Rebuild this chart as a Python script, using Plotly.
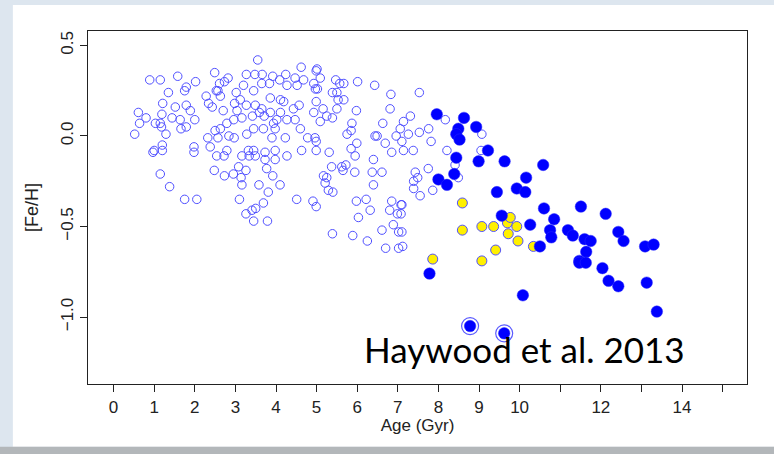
import plotly.graph_objects as go

# ---- data (Age in Gyr, [Fe/H]) ----
open_age = [3.55, 4.62, 5.01, 4.99,
    2.49, 3.27, 3.48, 3.66, 3.92, 4.24, 4.47, 4.68, 5.09, 5.47, 5.57, 5.67, 6.01, 6.43,
    0.89, 1.15, 1.58, 2.02, 1.79, 1.75,
    2.82, 2.73, 2.61, 2.53, 2.57, 3.02, 3.20, 3.45, 3.65, 3.84, 4.09, 4.27, 4.52, 4.93, 4.97, 5.02, 5.39, 5.50, 5.53, 5.67, 6.83, 7.53,
    1.35, 1.21, 1.52, 1.79, 1.89, 0.61, 0.80, 0.64, 1.03, 1.15, 1.19, 1.18, 1.29, 0.52, 1.44, 1.64, 1.66, 1.79, 2.00,
    2.28, 2.34, 2.43, 2.63, 2.70, 2.98, 3.12, 3.27, 3.04, 3.49, 3.65, 3.86, 4.11, 4.19, 4.43, 4.57, 4.99, 4.93, 5.16, 5.50, 5.98, 6.81, 7.31, 7.14,
    2.50, 2.63, 2.79, 2.96, 3.16, 3.42, 3.59, 3.71, 3.86, 4.02, 4.11, 4.27, 4.47, 4.60, 5.25, 5.39, 5.09, 5.87, 5.85, 5.75, 6.63, 6.49, 6.96, 7.06, 7.26, 7.53, 7.76,
    2.32, 2.57, 2.38, 2.84, 2.97, 3.28, 3.45, 3.69, 3.98, 3.90, 4.23, 3.94,
    1.00, 0.97, 1.20, 1.20, 1.98, 1.98,
    2.54, 2.72, 2.79, 3.16, 3.32, 3.45, 3.34, 3.49, 3.73, 3.98, 4.27, 4.63, 4.78, 4.96, 4.99, 4.99, 5.31, 5.85, 5.99, 5.95, 6.44, 6.69, 6.85, 7.10, 7.14, 7.38,
    1.15, 1.38, 1.75, 2.05,
    2.48, 2.73, 2.95, 3.08, 3.14, 3.16, 3.26, 3.58, 3.73, 3.77, 3.92, 4.10, 3.81, 3.98,
    5.17, 5.25, 5.21, 5.29, 5.40, 5.37, 5.62, 5.72, 5.65, 5.94, 6.40, 6.37, 6.61, 6.40, 7.43, 7.39, 7.49, 7.75, 7.39, 7.55,
    3.10, 3.26, 3.41, 3.50, 3.69, 3.45, 3.79, 4.51, 4.91, 4.99,
    5.98, 6.22, 6.03, 6.32, 6.85, 7.10, 6.80, 6.99, 6.89, 6.61, 7.02, 5.39, 5.89, 6.25, 6.70, 7.02,
    7.82, 8.17, 8.21, 9.07, 9.05, 7.86, 8.49, 8.41, 7.08, 7.08, 7.10, 7.12]
open_feh = [0.42, 0.38, 0.37, 0.36,
    0.35, 0.34, 0.34, 0.34, 0.33, 0.34, 0.32, 0.31, 0.32, 0.31, 0.29, 0.29, 0.30, 0.28,
    0.31, 0.31, 0.33, 0.30, 0.27, 0.25,
    0.32, 0.30, 0.29, 0.25, 0.25, 0.24, 0.28, 0.25, 0.29, 0.29, 0.31, 0.28, 0.28, 0.29, 0.26, 0.26, 0.24, 0.24, 0.20, 0.20, 0.23, 0.24,
    0.24, 0.18, 0.16, 0.17, 0.14, 0.13, 0.10, 0.07, 0.07, 0.07, 0.12, 0.05, 0.01, 0.01, 0.10, 0.09, 0.04, 0.05, 0.09,
    0.22, 0.18, 0.16, 0.22, 0.14, 0.18, 0.20, 0.17, 0.14, 0.17, 0.15, 0.21, 0.20, 0.19, 0.15, 0.17, 0.19, 0.13, 0.15, 0.15, 0.14, 0.15, 0.11, 0.08,
    0.03, 0.04, 0.07, 0.09, 0.10, 0.11, 0.13, 0.11, 0.13, 0.09, 0.13, 0.09, 0.09, 0.04, 0.11, 0.10, 0.08, 0.07, 0.03, 0.01, 0.07, 0.00, 0.00, 0.04, 0.01, 0.02, 0.04,
    -0.01, -0.01, -0.06, 0.00, -0.01, 0.01, 0.04, 0.04, 0.04, -0.01, -0.01, 0.07,
    -0.08, -0.09, -0.05, -0.08, -0.06, -0.09,
    -0.11, -0.11, -0.08, -0.11, -0.08, -0.08, -0.11, -0.11, -0.09, -0.08, -0.11, -0.08, -0.01, -0.01, -0.03, -0.08, -0.09, -0.07, -0.04, -0.11, 0.00, -0.04, -0.09, -0.03, -0.08, -0.08,
    -0.21, -0.28, -0.35, -0.35,
    -0.19, -0.22, -0.21, -0.17, -0.23, -0.27, -0.19, -0.27, -0.13, -0.18, -0.22, -0.27, -0.31, -0.13,
    -0.22, -0.23, -0.26, -0.30, -0.31, -0.17, -0.17, -0.16, -0.19, -0.20, -0.13, -0.20, -0.20, -0.27, -0.20, -0.25, -0.23, -0.18, -0.29, -0.33,
    -0.35, -0.43, -0.41, -0.40, -0.37, -0.47, -0.47, -0.35, -0.36, -0.39,
    -0.36, -0.35, -0.45, -0.41, -0.36, -0.38, -0.41, -0.43, -0.49, -0.52, -0.53, -0.54, -0.55, -0.58, -0.62, -0.62,
    -0.03, 0.09, -0.08, 0.01, -0.08, -0.30, -0.23, -0.16, -0.38, -0.43, -0.53, -0.61]

thick_age = [7.96, 8.63, 8.93, 8.49, 8.44, 8.52, 9.22, 8.44, 8.99, 9.63, 10.58, 8.39, 8.00, 8.21,
    10.16, 9.93, 10.14, 9.44, 10.60, 11.51, 12.12, 10.85, 9.56, 10.26, 10.75, 10.78, 11.19, 11.31,
    11.60, 11.75, 12.43, 12.56, 13.09, 13.30, 10.50, 11.64, 11.47, 11.47, 11.63, 12.04, 12.19, 12.43,
    13.13, 7.78, 10.08, 13.38, 8.78, 9.62]
thick_feh = [0.12, 0.10, 0.05, 0.04, 0.01, -0.02, -0.08, -0.12, -0.14, -0.14, -0.16, -0.21, -0.24, -0.27,
    -0.23, -0.29, -0.31, -0.31, -0.40, -0.39, -0.43, -0.46, -0.44, -0.49, -0.52, -0.56, -0.52, -0.55,
    -0.57, -0.58, -0.53, -0.58, -0.61, -0.60, -0.61, -0.64, -0.69, -0.70, -0.70, -0.73, -0.80, -0.83,
    -0.81, -0.76, -0.88, -0.97, -1.05, -1.09]

yellow_age = [8.59, 8.59, 9.07, 9.36, 9.70, 9.77, 9.93, 9.72, 9.96, 9.41, 9.07, 7.86, 10.34]
yellow_feh = [-0.37, -0.52, -0.50, -0.50, -0.48, -0.45, -0.50, -0.54, -0.58, -0.63, -0.69, -0.68, -0.61]

ring_age = [8.78, 9.62]
ring_feh = [-1.05, -1.09]

x_ticks = list(range(0, 16))
x_labels = ["0", "1", "2", "3", "4", "5", "6", "7", "8", "9", "10", "", "12", "", "14", ""]
y_ticks = [0.5, 0.0, -0.5, -1.0]
y_labels = ["0.5", "0.0", "\u22120.5", "\u22121.0"]

fig = go.Figure()
fig.add_trace(go.Scatter(x=open_age, y=open_feh, mode="markers",
    marker=dict(size=8.5, color="rgba(0,0,0,0)", line=dict(color="rgb(80,80,255)", width=1)),
    hoverinfo="skip"))
fig.add_trace(go.Scatter(x=yellow_age, y=yellow_feh, mode="markers",
    marker=dict(size=10, color="rgb(255,240,0)", line=dict(color="rgb(80,80,255)", width=1)),
    hoverinfo="skip"))
fig.add_trace(go.Scatter(x=ring_age, y=ring_feh, mode="markers",
    marker=dict(size=17, color="rgba(0,0,0,0)", line=dict(color="rgb(90,90,255)", width=1.2)),
    hoverinfo="skip"))
fig.add_trace(go.Scatter(x=thick_age, y=thick_feh, mode="markers",
    marker=dict(size=11.5, color="rgb(0,0,255)", line=dict(color="rgb(40,40,255)", width=0.5)),
    hoverinfo="skip"))

font_axis = dict(family="Liberation Sans, Arial, sans-serif", size=17, color="#222")

fig.update_layout(
    width=774, height=454,
    margin=dict(l=88, r=27, t=31, b=70),
    paper_bgcolor="#dde6ef",
    plot_bgcolor="white",
    showlegend=False,
    shapes=[
        dict(type="rect", xref="paper", yref="paper", x0=-0.114, x1=1.06, y0=-0.178, y1=1.074,
             fillcolor="white", line=dict(width=0), layer="below"),
        dict(type="rect", xref="paper", yref="paper", x0=-0.2, x1=1.1, y0=-0.25, y1=-0.178,
             fillcolor="#b3b7ba", line=dict(width=0), layer="below"),
    ],
    annotations=[dict(text="Haywood et al. 2013", xref="paper", yref="paper",
                      x=0.662, y=0.099, xanchor="center", yanchor="middle", showarrow=False,
                      font=dict(family="Lato, sans-serif", size=35, color="black"))],
)
fig.update_xaxes(range=[-0.63, 15.6], tickvals=x_ticks, ticktext=x_labels,
    ticks="outside", ticklen=7, tickcolor="#222", showline=True, linecolor="#222", linewidth=1.2,
    mirror=True, showgrid=False, zeroline=False, tickfont=font_axis,
    title=dict(text="Age (Gyr)", font=font_axis, standoff=2))
fig.update_yaxes(range=[-1.37, 0.58], tickvals=y_ticks, ticktext=y_labels, tickangle=-90,
    ticks="outside", ticklen=7, tickcolor="#222", showline=True, linecolor="#222", linewidth=1.2,
    mirror=True, showgrid=False, zeroline=False, tickfont=font_axis,
    title=dict(text="[Fe/H]", font=dict(family="Liberation Sans, Arial, sans-serif", size=18, color="#222"),
               standoff=14))

fig.write_html("out.html")
